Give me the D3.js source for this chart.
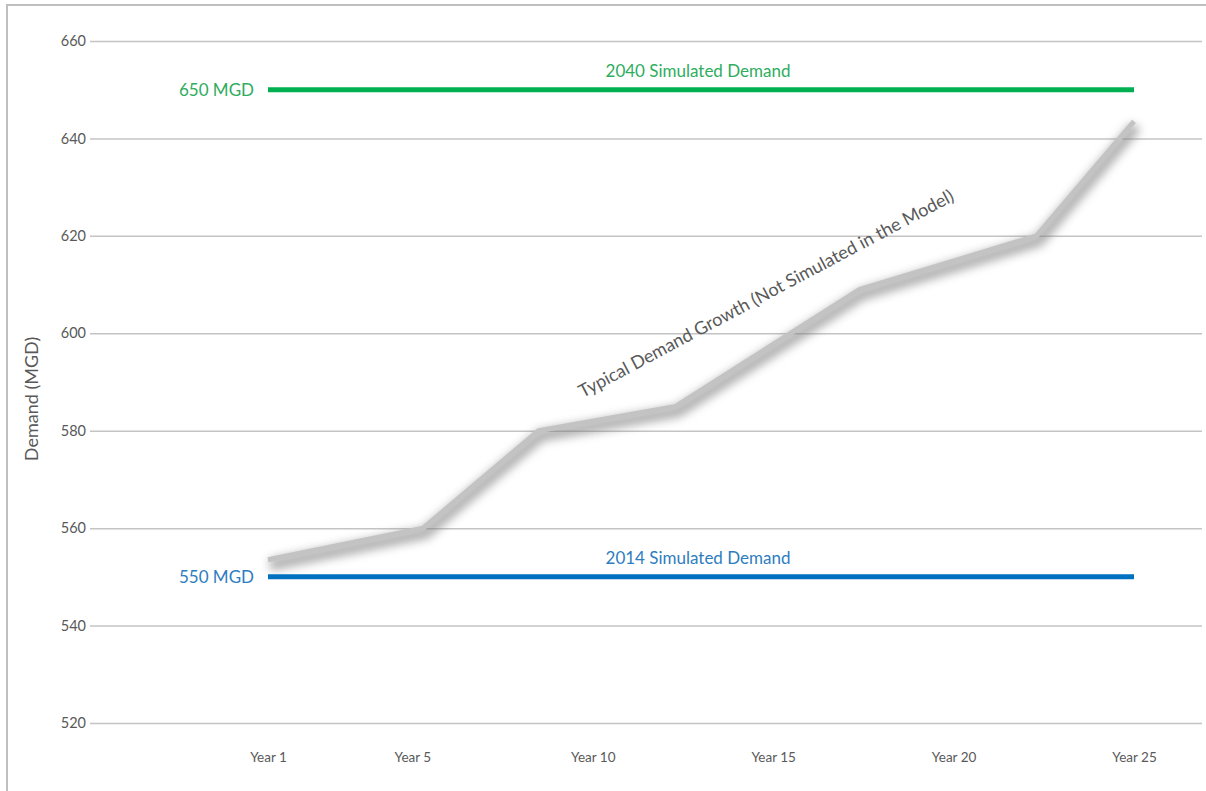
<!DOCTYPE html>
<html>
<head>
<meta charset="utf-8">
<script src="https://cdn.jsdelivr.net/npm/d3@7"></script>
<style>
  body { margin: 0; background: #fff; }
  text { font-family: Lato, "Open Sans", sans-serif; }
</style>
</head>
<body>
<div id="chart"></div>
<script>
// values
var yTicks = [520, 540, 560, 580, 600, 620, 640, 660];
var xTickYears = [1, 5, 10, 15, 20, 25];
var xTickLabels = ["Year 1", "Year 5", "Year 10", "Year 15", "Year 20", "Year 25"];

var growthYears = [1, 5.3, 8.5, 12.3, 17.4, 22.3, 25];
var growthDemand = [553.5, 560, 580, 585, 609, 620, 643.5];

var simYears = [1, 25];
var demand2040 = 650;
var demand2014 = 550;

function init() {
	var width = 1206;
	var height = 791;

	var svg = d3.select("#chart")
	            .append("svg")
	            .attr("width", width)
	            .attr("height", height);

	var xScale = d3.scaleLinear()
	               .domain([1, 25])
	               .range([268, 1134]);

	var yScale = d3.scaleLinear()
	               .domain([520, 660])
	               .range([723, 41]);

	// frame
	svg.append("path")
	   .attr("d", "M7,800 L7,5 L1210,5")
	   .attr("fill", "none")
	   .attr("stroke", "#bfbfbf")
	   .attr("stroke-width", 2);

	// gridlines + y labels
	var yAxis = d3.axisLeft(yScale)
	              .tickValues(yTicks)
	              .tickSize(-(1202 - 90))
	              .tickPadding(4);

	var gy = svg.append("g")
	   .attr("transform", "translate(90,0)")
	   .call(yAxis);
	gy.select(".domain").remove();
	gy.selectAll("line")
	  .attr("stroke", "#c4c4c4")
	  .attr("stroke-width", 1.5);
	gy.selectAll("text")
	  .attr("fill", "#595959")
	  .attr("font-size", "14.5px")
	  .attr("font-family", "Lato, sans-serif");

	// x labels
	var xAxis = d3.axisBottom(xScale)
	              .tickValues(xTickYears)
	              .tickFormat(function(d, i) { return xTickLabels[i]; })
	              .tickSize(0)
	              .tickPadding(0);

	var gx = svg.append("g")
	   .attr("transform", "translate(0,752)")
	   .call(xAxis);
	gx.select(".domain").remove();
	gx.selectAll("text")
	  .attr("fill", "#595959")
	  .attr("font-size", "13.5px")
	  .attr("font-family", "Lato, sans-serif");

	// y axis title
	svg.append("text")
	   .attr("transform", "translate(38,399) rotate(-90)")
	   .attr("text-anchor", "middle")
	   .attr("font-size", "18px")
	   .attr("fill", "#595959")
	   .text("Demand (MGD)");

	// shadow filter for the growth line
	var defs = svg.append("defs");
	var f = defs.append("filter")
	   .attr("id", "soft")
	   .attr("x", "-20%").attr("y", "-20%")
	   .attr("width", "140%").attr("height", "140%");
	f.append("feGaussianBlur").attr("stdDeviation", 5);

	var growth = growthYears.map(function(d, i) { return [d, growthDemand[i]]; });

	var line = d3.line()
	   .x(function(d) { return xScale(d[0]); })
	   .y(function(d) { return yScale(d[1]); });

	svg.append("path")
	   .datum(growth)
	   .attr("d", line)
	   .attr("transform", "translate(2,5)")
	   .attr("fill", "none")
	   .attr("stroke", "#7a7a7a")
	   .attr("stroke-width", 12)
	   .attr("stroke-linejoin", "round")
	   .attr("opacity", 0.6)
	   .attr("filter", "url(#soft)");

	svg.append("path")
	   .datum(growth)
	   .attr("d", line)
	   .attr("fill", "none")
	   .attr("stroke", "#c3c3c3")
	   .attr("stroke-width", 5)
	   .attr("stroke-linejoin", "round");

	// simulated demand lines
	var sims = [
		{ v: demand2040, color: "#00b050", text: "#2ead5e", label: "2040 Simulated Demand" },
		{ v: demand2014, color: "#0070c0", text: "#2e7dc0", label: "2014 Simulated Demand" }
	];

	svg.selectAll(".sim")
	   .data(sims)
	   .enter()
	   .append("line")
	   .attr("class", "sim")
	   .attr("x1", xScale(simYears[0]))
	   .attr("x2", xScale(simYears[1]))
	   .attr("y1", function(d) { return yScale(d.v); })
	   .attr("y2", function(d) { return yScale(d.v); })
	   .attr("stroke", function(d) { return d.color; })
	   .attr("stroke-width", 5);

	svg.selectAll(".simval")
	   .data(sims)
	   .enter()
	   .append("text")
	   .attr("class", "simval")
	   .attr("x", xScale(simYears[0]) - 14)
	   .attr("y", function(d) { return yScale(d.v) + 6; })
	   .attr("text-anchor", "end")
	   .attr("font-size", "17px")
	   .attr("fill", function(d) { return d.text; })
	   .text(function(d) { return d.v + " MGD"; });

	svg.selectAll(".simlab")
	   .data(sims)
	   .enter()
	   .append("text")
	   .attr("class", "simlab")
	   .attr("x", (xScale(simYears[0]) + xScale(simYears[1])) / 2 - 3)
	   .attr("y", function(d) { return yScale(d.v) - 13; })
	   .attr("text-anchor", "middle")
	   .attr("font-size", "17px")
	   .attr("fill", function(d) { return d.text; })
	   .text(function(d) { return d.label; });

	// annotation along the growth line
	svg.append("text")
	   .attr("transform", "translate(769,299) rotate(-28)")
	   .attr("text-anchor", "middle")
	   .attr("font-size", "18px")
	   .attr("fill", "#595959")
	   .text("Typical Demand Growth (Not Simulated in the Model)");
}
window.onload = init;
</script>
</body>
</html>
